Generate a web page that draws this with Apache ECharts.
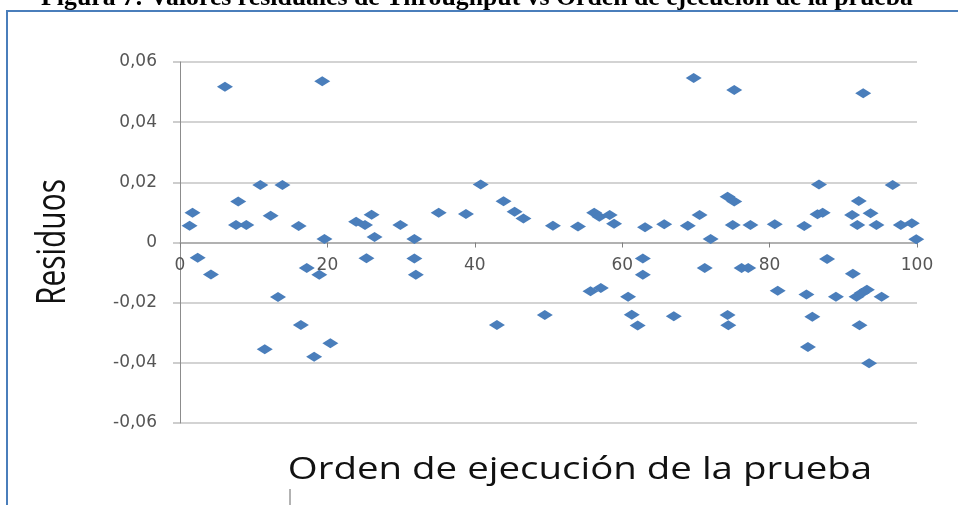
<!DOCTYPE html>
<html><head><meta charset="utf-8">
<script src="https://cdn.jsdelivr.net/npm/echarts@6/dist/echarts.min.js"></script>
<style>html,body{margin:0;padding:0;background:#fff}#c{width:966px;height:505px}</style>
</head><body><div id="c"></div>
<script>
const titleText = 'Figura 7: Valores residuales de Throughput vs Orden de ejecución de la prueba';
const xAxisTitle = 'Orden de ejecución de la prueba';
const yAxisTitle = 'Residuos';

const runOrder = [
  1.3, 1.7, 2.4, 4.2, 6.1, 7.6, 7.9, 9.0, 10.9, 11.5,
  12.3, 13.3, 13.9, 16.1, 16.4, 17.2, 18.2, 18.9, 19.3, 19.6,
  20.4, 23.9, 25.1, 25.3, 26.0, 26.4, 29.9, 31.8, 31.8, 32.0,
  35.1, 38.8, 40.8, 43.0, 43.9, 45.4, 46.6, 49.5, 50.6, 54.0,
  55.7, 56.2, 56.9, 57.1, 58.3, 58.9, 60.8, 61.3, 62.1, 62.8,
  62.8, 63.1, 65.7, 67.0, 68.9, 69.7, 70.5, 71.2, 72.0, 74.3,
  75.2, 74.3, 74.4, 75.0, 75.2, 76.2, 77.1, 77.4, 80.7, 81.1,
  84.7, 85.0, 85.2, 85.8, 86.5, 86.7, 87.2, 87.8, 89.0, 91.2,
  91.3, 91.8, 91.9, 92.1, 92.2, 92.5, 92.7, 93.2, 93.5, 93.7,
  94.5, 95.2, 96.7, 97.8, 99.3, 99.9
];
const residuals = [
  0.0056, 0.0099, -0.0051, -0.0106, 0.0518, 0.0058, 0.0136, 0.0058, 0.0191, -0.0355,
  0.0089, -0.0181, 0.0191, 0.0055, -0.0274, -0.0085, -0.0380, -0.0107, 0.0536, 0.0012,
  -0.0335, 0.0069, 0.0058, -0.0052, 0.0092, 0.0018, 0.0058, 0.0012, -0.0053, -0.0107,
  0.0099, 0.0095, 0.0193, -0.0274, 0.0137, 0.0102, 0.0080, -0.0241, 0.0056, 0.0053,
  -0.0162, 0.0099, 0.0086, -0.0151, 0.0091, 0.0062, -0.0180, -0.0240, -0.0276, -0.0053,
  -0.0107, 0.0051, 0.0061, -0.0245, 0.0056, 0.0547, 0.0091, -0.0085, 0.0012, 0.0152,
  0.0136, -0.0241, -0.0275, 0.0058, 0.0507, -0.0085, -0.0085, 0.0058, 0.0061, -0.0160,
  0.0055, -0.0173, -0.0347, -0.0247, 0.0094, 0.0193, 0.0099, -0.0055, -0.0180, 0.0091,
  -0.0104, -0.0180, 0.0058, 0.0138, -0.0275, -0.0168, 0.0496, -0.0157, -0.0401, 0.0097,
  0.0058, -0.0180, 0.0191, 0.0058, 0.0064, 0.0011
];
const xTicks = { min: 0, max: 100, interval: 20 };
const yTicks = { min: -0.06, max: 0.06, interval: 0.02 };

const points = runOrder.map((x, i) => [x, residuals[i]]);
const chart = echarts.init(document.getElementById('c'), null, { renderer: 'canvas' });

const fmtY = v => (Math.abs(v) < 1e-9 ? '0' : v.toFixed(2).replace('.', ','));

const gridTop = 62, gridBottom = 82, chartH = 505;
const gridH = chartH - gridTop - gridBottom;
// place the x axis where y = 0 (y range symmetric around zero)
const zeroOffset = -gridH * (0 - yTicks.min) / (yTicks.max - yTicks.min);

chart.setOption({
  animation: false,
  backgroundColor: '#fff',
  grid: { left: 180, right: 49, top: gridTop, bottom: gridBottom, containLabel: false },
  xAxis: {
    type: 'value', min: xTicks.min, max: xTicks.max, interval: xTicks.interval,
    position: 'bottom', offset: zeroOffset,
    axisLine: { show: true, onZero: false, lineStyle: { color: '#a6a6a6', width: 1.5 } },
    axisTick: { show: true, length: 5, lineStyle: { color: '#808080' } },
    axisLabel: { margin: 15, fontFamily: 'DejaVu Sans', fontSize: 17, color: '#555' },
    splitLine: { show: false }
  },
  yAxis: {
    type: 'value', min: yTicks.min, max: yTicks.max, interval: yTicks.interval,
    axisLine: { show: true, onZero: false, lineStyle: { color: '#8c8c8c', width: 1 } },
    axisTick: { show: true, length: 7, lineStyle: { color: '#bdbdbd', width: 1.5 } },
    axisLabel: { margin: 23, fontFamily: 'DejaVu Sans', fontSize: 17, color: '#555', formatter: fmtY },
    splitLine: { show: true, lineStyle: { color: '#c4c4c4', width: 1.5 } }
  },
  series: [{
    type: 'scatter',
    data: points,
    symbol: 'diamond',
    symbolSize: [16, 10],
    itemStyle: { color: '#4a7ebb', opacity: 1 }
  }],
  graphic: [
    { type: 'polyline', shape: { points: [[7, 520], [7, 11], [958, 11]] },
      style: { stroke: '#4a7ebb', lineWidth: 2, fill: null }, silent: true },
    { type: 'polyline', shape: { points: [[290, 489], [290, 505]] },
      style: { stroke: '#666', lineWidth: 1, fill: null }, silent: true },
    { type: 'text', x: 477, y: -1, silent: true, scaleX: 1.03,
      style: { text: titleText, fontFamily: 'Liberation Serif', fontWeight: 'bold', fontSize: 25,
               fill: '#000', align: 'center', verticalAlign: 'middle' } },
    { type: 'text', x: 580, y: 470, silent: true, scaleX: 1.24,
      style: { text: xAxisTitle, fontFamily: 'Open Sans', fontSize: 31, fontWeight: 500,
               fill: '#111', align: 'center', verticalAlign: 'middle' } },
    { type: 'text', x: 53, y: 242, rotation: Math.PI / 2, scaleY: 1.4, scaleX: 1.03, silent: true,
      style: { text: yAxisTitle, fontFamily: 'Open Sans', fontSize: 29, fontWeight: 500,
               fill: '#111', align: 'center', verticalAlign: 'middle' } }
  ]
});
</script></body></html>
